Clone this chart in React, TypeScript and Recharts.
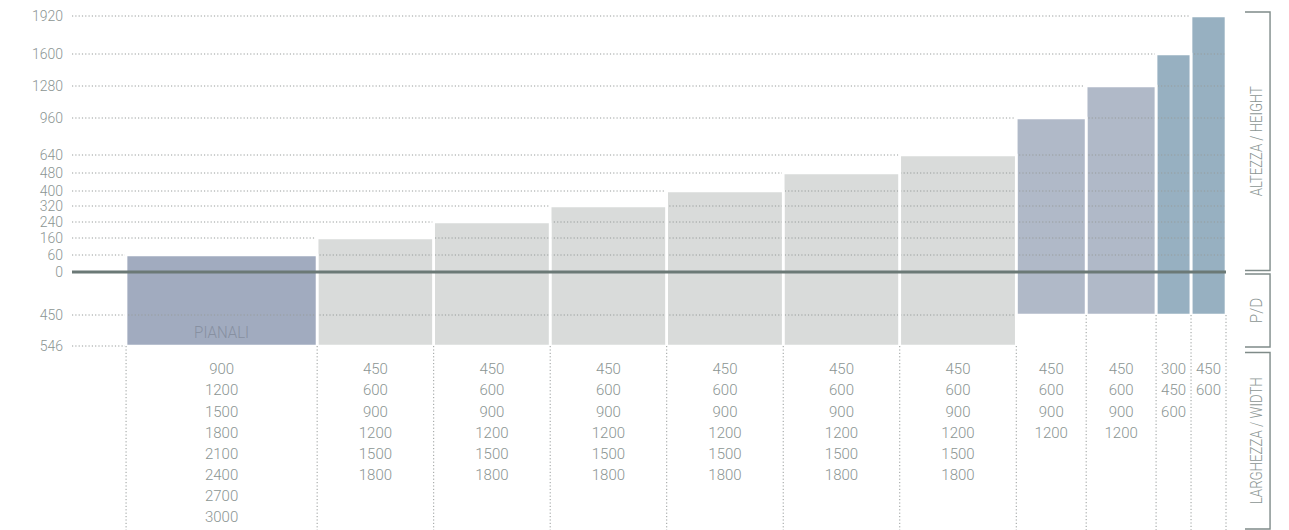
import React from 'react';
import { ComposedChart, XAxis, YAxis, ReferenceArea, ReferenceLine } from 'recharts';

// ---------- data ----------
const SLOT_NAMES = ['PIANALI', 'H160', 'H240', 'H320', 'H400', 'H480', 'H640', 'H960', 'H1280', 'H1600', 'H1920'];
const SLOT_CAPTIONS = ['PIANALI', '', '', '', '', '', '', '', '', '', ''];
const HEIGHTS = [60, 160, 240, 320, 400, 480, 640, 960, 1280, 1600, 1920];
const DEPTHS = [546, 546, 546, 546, 546, 546, 546, 450, 450, 450, 450];
const SLOT_WIDTHS = [16.4, 10, 10, 10, 10, 10, 10, 6, 6, 3, 3];
const SLOT_GROUPS = ['shelf', 'frame', 'frame', 'frame', 'frame', 'frame', 'frame', 'tall', 'tall', 'top', 'top'];
const WIDTH_OPTIONS: number[][] = [
  [900, 1200, 1500, 1800, 2100, 2400, 2700, 3000],
  [450, 600, 900, 1200, 1500, 1800],
  [450, 600, 900, 1200, 1500, 1800],
  [450, 600, 900, 1200, 1500, 1800],
  [450, 600, 900, 1200, 1500, 1800],
  [450, 600, 900, 1200, 1500, 1800],
  [450, 600, 900, 1200, 1500, 1800],
  [450, 600, 900, 1200],
  [450, 600, 900, 1200],
  [300, 450, 600],
  [450, 600],
];
// tick values of the (non-linear) vertical axis; negatives are depths below the 0 line
const Y_TICK_VALUES = [1920, 1600, 1280, 960, 640, 480, 400, 320, 240, 160, 60, 0, -450, -546];
// axis stops of those ticks (the piecewise scale of the drawing)
const Y_TICK_STOPS = [330, 292, 260, 228, 191, 173, 155, 140, 124, 108, 91, 74, 31, 0];
const SECTION_LABELS = ['ALTEZZA / HEIGHT', 'P/D', 'LARGHEZZA / WIDTH'];

// ---------- styles ----------
const GROUP_COLORS: Record<string, string> = {
  shelf: '#a1abbf',
  frame: '#d9dbda',
  tall: '#b0b9c8',
  top: '#97b0c1',
};
const FONT = 'Roboto, "Noto Sans", sans-serif';
const TEXT = '#8b9593';
const GRID = '#979c9b';
const ZERO = '#6b7976';
const BRACKET = '#7f8b89';

const X_LEAD = 4.64;
const Y_MIN = -184;
const Y_MAX = 330;

function toPos(v: number): number {
  for (let i = 0; i < Y_TICK_VALUES.length - 1; i++) {
    const a = Y_TICK_VALUES[i];
    const b = Y_TICK_VALUES[i + 1];
    if (v <= a && v >= b) {
      const t = (v - b) / (a - b);
      return Y_TICK_STOPS[i + 1] + t * (Y_TICK_STOPS[i] - Y_TICK_STOPS[i + 1]);
    }
  }
  return v > Y_TICK_VALUES[0] ? Y_TICK_STOPS[0] : Y_TICK_STOPS[Y_TICK_STOPS.length - 1];
}

const starts: number[] = [];
SLOT_WIDTHS.reduce((acc, w) => {
  starts.push(acc);
  return acc + w;
}, 0);
const TOTAL = SLOT_WIDTHS.reduce((a, b) => a + b, 0);
const X_MIN = -X_LEAD;
const X_MAX = TOTAL;

const rows = SLOT_NAMES.map((name, i) => ({
  name,
  x1: starts[i],
  x2: starts[i] + SLOT_WIDTHS[i],
  top: HEIGHTS[i],
  bottom: -DEPTHS[i],
  group: SLOT_GROUPS[i],
  caption: SLOT_CAPTIONS[i],
  widths: WIDTH_OPTIONS[i],
}));

const boundaries = [...starts, TOTAL];
const boundaryLines = boundaries.map((bx, i) => {
  const left = i > 0 ? DEPTHS[i - 1] : 0;
  const right = i < DEPTHS.length ? DEPTHS[i] : 0;
  return { x: bx, from: -Math.max(left, right) };
});

const gridTicks = Y_TICK_VALUES.filter((v) => v !== 0).map((v) => {
  let end = X_MAX;
  if (v < 0) {
    end = X_MIN;
    rows.forEach((r) => {
      if (r.bottom <= v) end = r.x2;
    });
  }
  return { v, end };
});

const sections = [
  { label: SECTION_LABELS[0], from: toPos(0) + 1.5, to: toPos(1920) + 4, len: 110 },
  { label: SECTION_LABELS[1], from: toPos(-546) - 1, to: toPos(0) - 2, len: 25.5 },
  { label: SECTION_LABELS[2], from: Y_MIN + 1, to: toPos(-546) - 6.5, len: 127 },
];

const BRACKET_X1 = X_MAX + 1.63;
const BRACKET_X2 = X_MAX + 3.78;

export default function App() {
  return (
    <div style={{ width: 1281, height: 522 }}>
      <ComposedChart
        width={1281}
        height={522}
        data={rows}
        margin={{ top: 8, right: 63, left: 0, bottom: 0 }}
      >
        <XAxis type="number" dataKey="x1" domain={[X_MIN, X_MAX]} allowDataOverflow hide />
        <YAxis
          type="number"
          domain={[Y_MIN, Y_MAX]}
          allowDataOverflow
          ticks={Y_TICK_STOPS}
          interval={0}
          width={64}
          axisLine={false}
          tickLine={false}
          tickMargin={3}
          tick={{ fill: TEXT, fontSize: 14, fontFamily: FONT, fontWeight: 300 }}
          tickFormatter={(p: number) => {
            const i = Y_TICK_STOPS.indexOf(p);
            return i >= 0 ? String(Math.abs(Y_TICK_VALUES[i])) : '';
          }}
        />

        {/* bar fills */}
        {rows.map((r) => (
          <ReferenceArea
            key={'fill-' + r.name}
            x1={r.x1}
            x2={r.x2}
            y1={toPos(r.bottom)}
            y2={toPos(r.top)}
            fill={GROUP_COLORS[r.group]}
            fillOpacity={1}
            stroke="none"
            ifOverflow="visible"
            zIndex={100}
          />
        ))}

        {/* dotted grid lines, drawn over the bars */}
        {gridTicks.map((g) => (
          <ReferenceLine
            key={'grid-' + g.v}
            segment={[
              { x: X_MIN, y: toPos(g.v) },
              { x: g.end, y: toPos(g.v) },
            ]}
            stroke={GRID}
            strokeWidth={1}
            strokeDasharray="1.2 2.1"
            ifOverflow="visible"
            zIndex={200}
          />
        ))}

        {/* white outlines separating the bars */}
        {rows.map((r) => (
          <ReferenceArea
            key={'edge-' + r.name}
            x1={r.x1}
            x2={r.x2}
            y1={toPos(r.bottom)}
            y2={toPos(r.top)}
            fill="none"
            fillOpacity={0}
            stroke="#ffffff"
            strokeWidth={2.6}
            ifOverflow="visible"
            zIndex={300}
          />
        ))}

        {/* zero line */}
        <ReferenceLine y={toPos(0)} stroke={ZERO} strokeWidth={2.8} ifOverflow="visible" zIndex={400} />

        {/* vertical dotted separators under the bars */}
        {boundaryLines.map((b, i) => (
          <ReferenceLine
            key={'sep-' + i}
            segment={[
              { x: b.x, y: toPos(b.from) },
              { x: b.x, y: Y_MIN },
            ]}
            stroke={GRID}
            strokeWidth={1}
            strokeDasharray="1.2 2.2"
            ifOverflow="visible"
            zIndex={400}
          />
        ))}

        {/* captions inside bars */}
        {rows
          .filter((r) => r.caption)
          .map((r) => (
            <ReferenceArea
              key={'cap-' + r.name}
              x1={r.x1}
              x2={r.x2}
              y1={toPos(r.bottom)}
              y2={toPos(r.top)}
              fill="none"
              fillOpacity={0}
              ifOverflow="visible"
              zIndex={500}
              shape={(p: any) => (
                <text
                  x={p.x + p.width / 2}
                  y={p.y + p.height - 7.7}
                  textAnchor="middle"
                  fill="#8790a1"
                  fontSize={17}
                  fontFamily={FONT}
                  fontWeight={300}
                  textLength={55}
                  lengthAdjust="spacingAndGlyphs"
                >
                  {r.caption}
                </text>
              )}
            />
          ))}

        {/* width options under each slot */}
        {rows.map((r) => (
          <ReferenceArea
            key={'w-' + r.name}
            x1={r.x1}
            x2={r.x2}
            y1={Y_MIN}
            y2={toPos(-546)}
            fill="none"
            fillOpacity={0}
            ifOverflow="visible"
            zIndex={500}
            shape={(p: any) => (
              <g>
                {r.widths.map((w, k) => (
                  <text
                    key={k}
                    x={p.x + p.width / 2}
                    y={p.y + 28.3 + k * 21.15}
                    textAnchor="middle"
                    fill={TEXT}
                    fontSize={15}
                    fontFamily={FONT}
                    fontWeight={300}
                  >
                    {w}
                  </text>
                ))}
              </g>
            )}
          />
        ))}

        {/* right-hand brackets */}
        {sections.map((s) => (
          <ReferenceArea
            key={'sec-' + s.label}
            x1={BRACKET_X1}
            x2={BRACKET_X2}
            y1={s.from}
            y2={s.to}
            fill="none"
            fillOpacity={0}
            ifOverflow="visible"
            zIndex={500}
            shape={(p: any) => {
              const right = p.x + p.width;
              const cy = p.y + p.height / 2;
              const tx = right - 8.5;
              return (
                <g>
                  <path
                    d={`M${p.x},${p.y} H${right} V${p.y + p.height} H${p.x}`}
                    fill="none"
                    stroke={BRACKET}
                    strokeWidth={1.4}
                  />
                  <text
                    x={tx}
                    y={cy}
                    transform={`rotate(-90 ${tx} ${cy})`}
                    textAnchor="middle"
                    fill={TEXT}
                    fontSize={16}
                    fontFamily={FONT}
                    fontWeight={300}
                    textLength={s.len}
                    lengthAdjust="spacingAndGlyphs"
                  >
                    {s.label}
                  </text>
                </g>
              );
            }}
          />
        ))}
      </ComposedChart>
    </div>
  );
}
